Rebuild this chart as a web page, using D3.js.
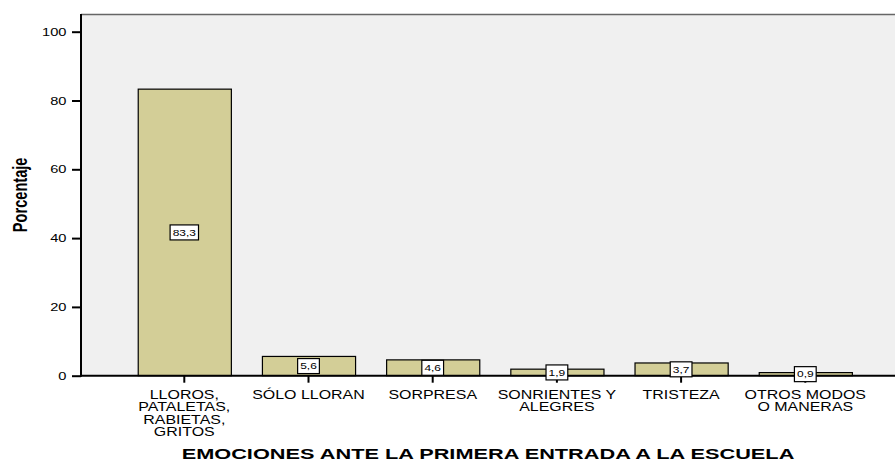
<!DOCTYPE html>
<html>
<head>
<meta charset="utf-8">
<script src="https://cdn.jsdelivr.net/npm/d3@7"></script>
<style>
  html, body { margin: 0; padding: 0; background: #ffffff; }
  svg { display: block; }
  text { font-family: "Liberation Sans", Arial, sans-serif; }
</style>
</head>
<body>
<svg id="chart" width="895" height="462"></svg>
<script>
// ---- data ----
const categories = [
  ["LLOROS,", "PATALETAS,", "RABIETAS,", "GRITOS"],
  ["SÓLO LLORAN"],
  ["SORPRESA"],
  ["SONRIENTES Y", "ALEGRES"],
  ["TRISTEZA"],
  ["OTROS MODOS", "O MANERAS"]
];
const values = [83.3, 5.6, 4.6, 1.9, 3.7, 0.9];
const yTicks = [0, 20, 40, 60, 80, 100];
const yTitle = "Porcentaje";
const xTitle = "EMOCIONES ANTE LA PRIMERA ENTRADA A LA ESCUELA";

// ---- layout ----
const SX = 1.33; // horizontal stretch of the original's text
const plot = { left: 81, right: 895, top: 14, zero: 375.7, hundred: 31.7 };
const svg = d3.select("#chart");

const keys = categories.map((c, i) => i);
const x = d3.scaleBand().domain(keys).range([122.2, 867.4])
  .paddingInner(0.25).paddingOuter(0.125);
const y = d3.scaleLinear().domain([0, 100]).range([plot.zero, plot.hundred]);

const fmt = v => d3.format(".1f")(v).replace(".", ",");

function stext(g, tx, ty, str, opts) {
  const sx = opts.sx || SX;
  const t = g.append("text")
    .attr("transform", `translate(${tx},${ty}) scale(${sx},1)` + (opts.rotate ? ` rotate(${opts.rotate})` : ""))
    .attr("text-anchor", opts.anchor || "middle")
    .attr("font-size", opts.size)
    .attr("font-weight", opts.weight || "normal")
    .attr("fill", "#000")
    .text(str);
  return t;
}

// background
svg.append("rect")
  .attr("x", plot.left).attr("y", plot.top)
  .attr("width", plot.right - plot.left).attr("height", plot.zero - plot.top)
  .attr("fill", "#f0f0f0");
svg.append("line")
  .attr("x1", plot.left).attr("x2", plot.right)
  .attr("y1", plot.top + 0.5).attr("y2", plot.top + 0.5)
  .attr("stroke", "#666").attr("stroke-width", 1.5);

// bars
svg.append("g").selectAll("rect").data(values).join("rect")
  .attr("x", (d, i) => x(i) + 0.5)
  .attr("y", d => y(d))
  .attr("width", x.bandwidth())
  .attr("height", d => plot.zero - y(d))
  .attr("fill", "#d3ce97")
  .attr("stroke", "#000").attr("stroke-width", 1.2);

// y axis
const yAxis = d3.axisLeft(y).tickValues(yTicks).tickSize(9).tickFormat("");
const gy = svg.append("g").attr("transform", `translate(${plot.left},0)`).call(yAxis);
gy.select(".domain").remove();
gy.selectAll(".tick line").attr("stroke", "#000").attr("stroke-width", 2);
yTicks.forEach(t => stext(svg, 66.5, y(t) + 4, String(t), { anchor: "end", size: 11 }));

// x axis
const xAxis = d3.axisBottom(x).tickSize(7).tickFormat("");
const gx = svg.append("g").attr("transform", `translate(0,${plot.zero})`).call(xAxis);
gx.select(".domain").remove();
gx.selectAll(".tick line").attr("stroke", "#000").attr("stroke-width", 2);

// axis lines
svg.append("line").attr("x1", plot.left).attr("x2", plot.left)
  .attr("y1", plot.top).attr("y2", plot.zero + 1)
  .attr("stroke", "#000").attr("stroke-width", 2);
svg.append("line").attr("x1", plot.left).attr("x2", plot.right)
  .attr("y1", plot.zero).attr("y2", plot.zero)
  .attr("stroke", "#000").attr("stroke-width", 2);

// category labels
categories.forEach((lines, i) => {
  const cx = x(i) + x.bandwidth() / 2;
  lines.forEach((ln, j) => stext(svg, cx, 399.3 + j * 12.13, ln, { size: 12 }));
});

// value labels
values.forEach((v, i) => {
  const cx = x(i) + x.bandwidth() / 2;
  const cy = (y(v) + plot.zero) / 2;
  const g = svg.append("g");
  const t = stext(g, cx, cy + 3.3, fmt(v), { size: 9 });
  const w = t.node().getBBox().width * SX + 5;
  g.insert("rect", "text")
    .attr("x", cx - w / 2).attr("y", cy - 7.5)
    .attr("width", w).attr("height", 15)
    .attr("fill", "#fff").attr("stroke", "#000").attr("stroke-width", 1.2);
});

// titles
stext(svg, 26.5, (plot.top + plot.zero) / 2, yTitle, { size: 14.6, weight: "bold", rotate: -90 });
const tt = stext(svg, (plot.left + plot.right) / 2, 459.3, xTitle, { size: 14.2, weight: "bold" });
const tw = tt.node().getBBox().width;
tt.attr("transform", `translate(${(plot.left + plot.right) / 2},459.3) scale(${612 / tw},1)`);
</script>
</body>
</html>
